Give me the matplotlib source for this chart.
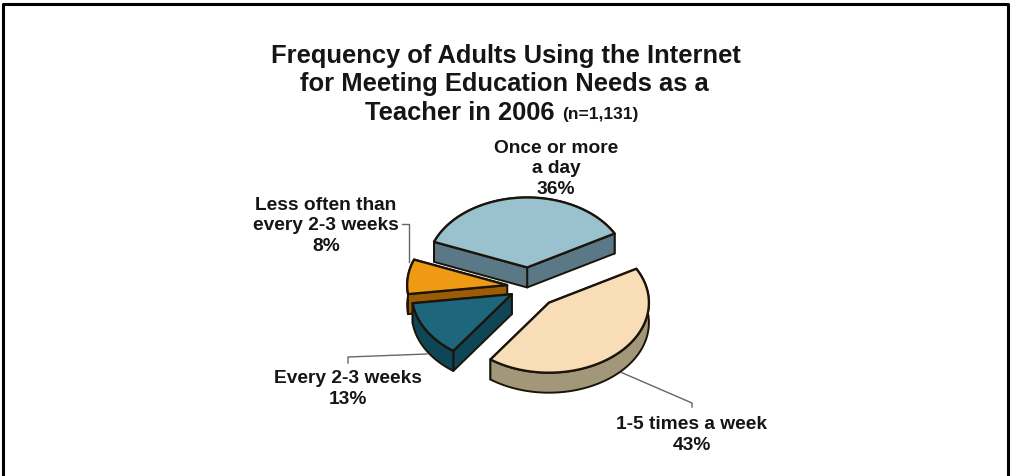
import numpy as np
import matplotlib
matplotlib.use('Agg')
import matplotlib.pyplot as plt
from matplotlib.patches import Polygon

# shares, going counter clockwise from the right corner of the blue slice
labels = ['Once or more\na day\n36%', 'Less often than\nevery 2-3 weeks\n8%',
          'Every 2-3 weeks\n13%', '1-5 times a week\n43%']
shares = [36, 8, 13, 43]
explode = [0.28, 0.22, 0.2, 0.3]
top_colors = ['#9AC1CE', '#EE9A12', '#1D667C', '#F8DDB6']
side_colors = ['#5A7886', '#9C5C05', '#0F4656', '#A39779']

START = 29
CX, CY = 529, 288
RX, RY = 100, 70
DEPTH = 20
EDGE = '#1B140A'
TEXT = '#151515'

plt.rcParams['font.family'] = ['Liberation Sans', 'DejaVu Sans']

fig = plt.figure(figsize=(10.12, 4.77), dpi=100)
ax = fig.add_axes([0, 0, 1, 1])
ax.set_xlim(0, 1012)
ax.set_ylim(477, 0)
ax.axis('off')

# frame round the picture, the bottom is cut off
ax.plot([3, 3, 1008, 1008], [477, 4.5, 4.5, 477], color='black', lw=2.2)

ang = START
for i in range(len(shares)):
    span = shares[i] * 3.6
    t = np.radians(np.linspace(ang, ang + span, 60))
    mid = np.radians(ang + span / 2)
    x0 = CX + explode[i] * RX * np.cos(mid)
    y0 = CY - explode[i] * RY * np.sin(mid)
    x = x0 + RX * np.cos(t)
    y = y0 - RY * np.sin(t)

    # walls, back ones first, the top face hides them anyway
    walls = [
        (np.r_[x0, x[0]], np.r_[y0, y[0]]),
        (np.r_[x0, x[-1]], np.r_[y0, y[-1]]),
        (x, y),
    ]
    walls.sort(key=lambda w: np.mean(w[1]))
    for wx, wy in walls:
        pts = np.r_[np.c_[wx, wy], np.c_[wx[::-1], wy[::-1] + DEPTH]]
        ax.add_patch(Polygon(pts, closed=True, fc=side_colors[i], ec=EDGE, lw=1.4,
                             joinstyle='round', zorder=3 + i))

    ax.add_patch(Polygon(np.c_[np.r_[x0, x], np.r_[y0, y]], closed=True, fc=top_colors[i],
                         ec=EDGE, lw=1.7, joinstyle='round', zorder=3 + i))
    ang += span

# leader lines
ax.plot([402, 409, 409], [225, 225, 263], color='#666666', lw=1, zorder=1)
ax.plot([348, 348, 427], [364, 358, 355], color='#666666', lw=1, zorder=1)
ax.plot([618, 692, 692], [372, 404, 408], color='#666666', lw=1, zorder=1)

# title
ax.text(506, 56, 'Frequency of Adults Using the Internet', ha='center', va='center',
        fontsize=18.4, fontweight='bold', color=TEXT)
ax.text(504, 84, 'for Meeting Education Needs as a', ha='center', va='center',
        fontsize=18.4, fontweight='bold', color=TEXT)
ax.text(365, 113, 'Teacher in 2006', ha='left', va='center', fontsize=18.4,
        fontweight='bold', color=TEXT)
ax.text(562, 115, '(n=1,131)', ha='left', va='center', fontsize=12.5, fontweight='bold',
        color=TEXT)

# slice labels
label_x = [556, 326, 348, 692]
label_y = [169, 226, 389, 435]
for i in range(len(labels)):
    ax.text(label_x[i], label_y[i], labels[i], ha='center', va='center', fontsize=13.8,
            fontweight='bold', linespacing=1.3, color=TEXT)

fig.savefig('out.png', dpi=100)
